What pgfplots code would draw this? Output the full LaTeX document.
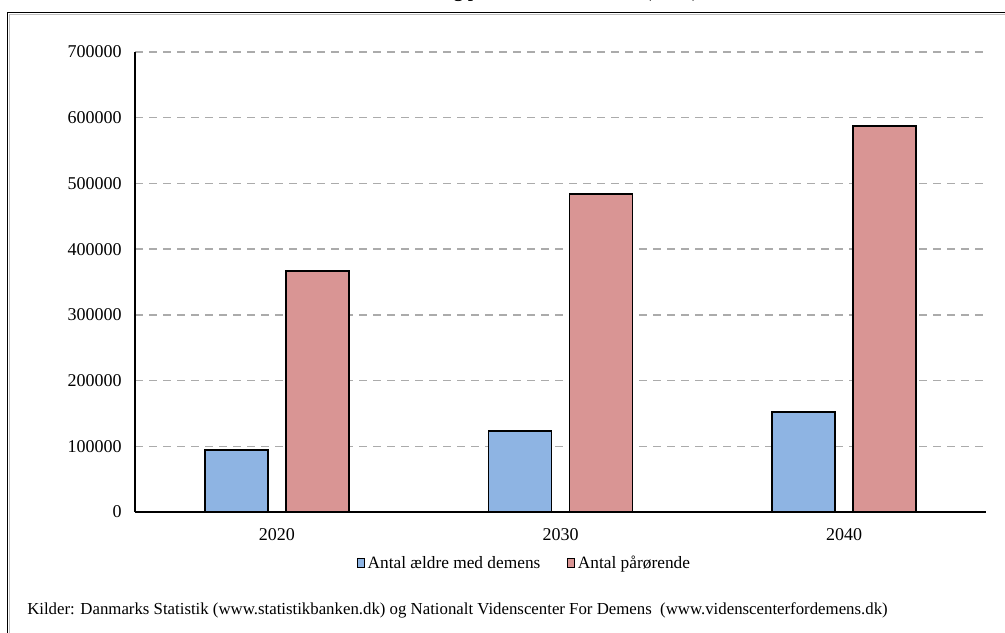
\documentclass[border=0pt]{standalone}
\usepackage{pgfplots}
\pgfplotsset{compat=1.18}
\usepackage{fontspec}
\setmainfont{Liberation Serif}
\definecolor{barblue}{HTML}{8EB4E3}
\definecolor{barred}{HTML}{D99594}
\definecolor{gridgray}{HTML}{ABABAB}

\begin{document}
\begin{tikzpicture}
\begin{scope}[x=0.75pt,y=-0.75pt]
  \clip (0,0) rectangle (1005,632);
  \fill[white] (0,0) rectangle (1005,632);
  % heading, only its lower edge falls inside the page
  \node[anchor=base, inner sep=0pt, font=\bfseries\fontsize{14}{16}\selectfont]
    at (470,-2.5) {Antal ældre med demens og pårørende, 2020-2040 (antal)};
  % chart frame with a light shadow line
  \draw[line width=1.2pt, black!25] (9.5,660) -- (9.5,14.5) -- (1030,14.5);
  \draw[line width=1.4pt] (7.5,660) -- (7.5,12.5) -- (1030,12.5);
  % source line
  \node[anchor=base west, inner sep=0pt, font=\fontsize{12.6}{14}\selectfont]
    at (27,614) {Kilder: Danmarks Statistik (www.statistikbanken.dk) og Nationalt Videnscenter For Demens\ \ (www.videnscenterfordemens.dk)};
\end{scope}

\begin{axis}[
  at={(101.25pt,-384pt)}, anchor=south west,
  width=638.25pt, height=345pt, scale only axis,
  ybar, bar width=47.25pt, ybar=13.5pt,
  xmin=-0.5, xmax=2.5, ymin=0, ymax=700000,
  xtick={0,1,2}, xticklabels={2020,2030,2040},
  ytick={0,100000,...,700000},
  scaled y ticks=false,
  /pgf/number format/.cd, fixed, 1000 sep={}, assume math mode=true, /pgfplots/.cd,
  axis x line*=bottom, axis y line*=left,
  axis line style={-, line width=1.2pt, black},
  major tick length=0pt,
  ymajorgrids,
  grid style={gridgray, line width=1.1pt, dash pattern=on 6pt off 4.5pt},
  tick label style={font=\fontsize{13.5}{16}\selectfont},
  yticklabel style={anchor=east, inner sep=0pt, xshift=-9.75pt},
  xticklabel style={anchor=north, inner sep=0pt, yshift=-12pt},
  legend columns=2,
  legend style={at={(0.458,-0.111)}, anchor=center, draw=none, fill=none,
    font=\fontsize{13}{15}\selectfont,
    /tikz/every even column/.append style={column sep=18pt}},
  legend image code/.code={\draw[#1, draw=black, line width=0.6pt] (0pt,-3.5pt) rectangle (5.5pt,3.5pt);},
]
\addplot[fill=barblue, draw=black, line width=1.4pt]
  coordinates {(0,94400) (1,123300) (2,152200)};
\addplot[fill=barred, draw=black, line width=1.4pt]
  coordinates {(0,367200) (1,484000) (2,587400)};
\legend{Antal ældre med demens, Antal pårørende}
\end{axis}
\end{tikzpicture}
\end{document}
